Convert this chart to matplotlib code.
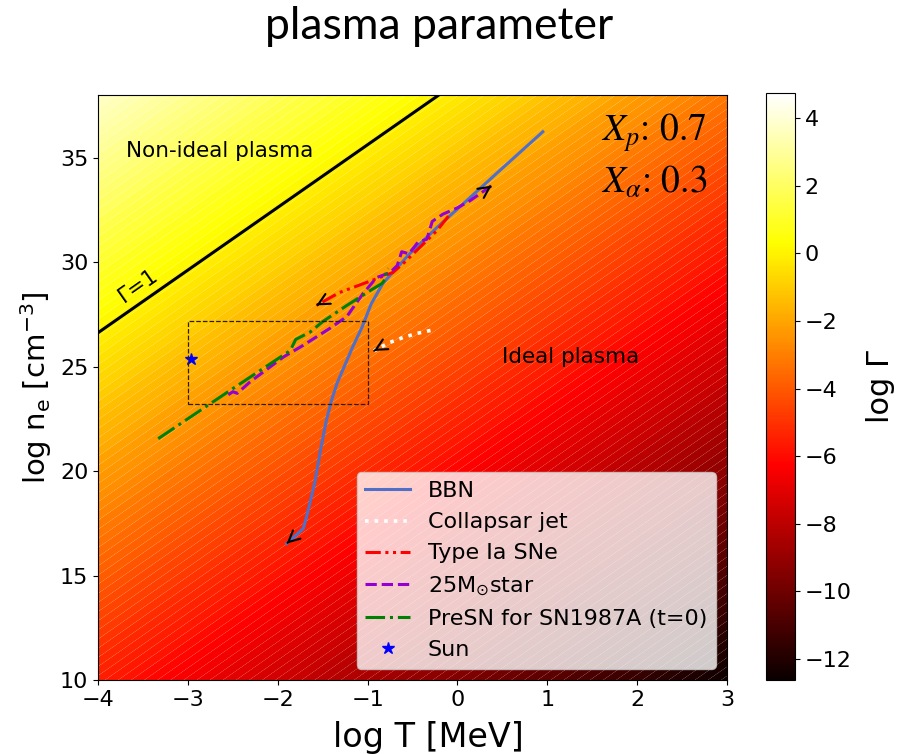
import numpy as np
import matplotlib
matplotlib.use('Agg')
import matplotlib.pyplot as plt
from matplotlib.colors import Normalize
from matplotlib.cm import ScalarMappable

# tracks in (log T [MeV], log n_e [cm^-3])
bbn_logT = [0.95, 0.47, 0.14, -0.23, -0.53, -0.83, -0.96, -1.06, -1.17, -1.26, -1.34, -1.40,
            -1.46, -1.52, -1.585, -1.64, -1.68, -1.715, -1.90]
bbn_logn = [36.24, 34.38, 33.09, 31.65, 30.41, 28.98, 28.0, 26.9, 25.9, 25.0, 24.2, 23.4,
            22.4, 21.1, 19.5, 18.5, 17.8, 17.25, 16.53]

jet_logT = [-0.30, -0.45, -0.60, -0.75, -0.86, -0.93]
jet_logn = [26.73, 26.59, 26.40, 26.16, 25.92, 25.75]

snia_logT = [-0.10, -0.23, -0.42, -0.60, -0.72, -1.01, -1.31, -1.57]
snia_logn = [32.2, 31.5, 30.7, 29.95, 29.5, 29.03, 28.55, 27.93]

star25_logT = [-2.55, -2.50, -2.45, -2.31, -1.94, -1.72, -1.42, -1.23, -1.05, -0.90, -0.75, -0.67,
               -0.62, -0.54, -0.44, -0.34, -0.28, -0.16, 0.0, 0.14, 0.38]
star25_logn = [23.65, 23.80, 23.72, 24.26, 25.45, 26.01, 26.83, 27.4, 28.5, 29.26, 29.5, 29.84,
               30.5, 30.4, 30.95, 31.1, 31.95, 32.3, 32.6, 32.94, 33.66]

presn_logT = [-3.33, -2.53, -1.86, -1.80, -1.64, -1.50, -1.23, -0.97, -0.84, -0.79, -0.80, -0.77]
presn_logn = [21.55, 23.86, 25.77, 26.30, 26.65, 27.15, 27.93, 28.64, 28.98, 29.26, 29.55, 29.70]

sun_logT = [-2.97]
sun_logn = [25.37]

# zoom box drawn on the map
box_logT = [-3.0, -1.0]
box_logn = [23.2, 27.2]

# log Gamma = log n_e / 3 - log T + C
GAMMA_CONST = -12.873
CB_MIN, CB_MAX = -12.62, 4.74

fig = plt.figure(figsize=(8.97, 7.54), dpi=100)
ax = fig.add_axes([98/897, 74/754, 629/897, 585/754])
cax = fig.add_axes([766/897, 74/754, 29/897, 587/754])

T, N = np.meshgrid(np.linspace(-4, 3, 400), np.linspace(10, 38, 400))
logG = N / 3 - T + GAMMA_CONST
ax.contourf(T, N, logG, levels=np.linspace(CB_MIN, CB_MAX, 120), cmap='hot',
            vmin=CB_MIN, vmax=CB_MAX, antialiased=True)
ax.contour(T, N, logG, levels=[0], colors='k', linewidths=2.2)

ax.plot(bbn_logT, bbn_logn, color='#4f6fc8', lw=2.2, label='BBN')
ax.plot(jet_logT, jet_logn, color='white', lw=2.6, ls=':', label='Collapsar jet')
ax.plot(snia_logT, snia_logn, color='red', lw=2.2, ls=(0, (5, 1.5, 1, 1.5, 1, 1.5)), label='Type Ia SNe')
ax.plot(star25_logT, star25_logn, color='darkviolet', lw=2.2, ls='--', label=r'25M$_{\odot}$star')
ax.plot(presn_logT, presn_logn, color='green', lw=2.2, ls='-.', label='PreSN for SN1987A (t=0)')
ax.plot(sun_logT, sun_logn, ls='none', marker='*', ms=9, color='blue', label='Sun')


def head(xs, ys):
    # open arrow head at the end of a track, pointing along its last segment
    x0, y0, x1, y1 = xs[-2], ys[-2], xs[-1], ys[-1]
    start = (x1 - 0.05 * (x1 - x0), y1 - 0.05 * (y1 - y0))
    ax.annotate('', xy=(x1, y1), xytext=start,
                arrowprops=dict(arrowstyle='->', color='k', lw=1.5, mutation_scale=20,
                                shrinkA=0, shrinkB=0))


head(bbn_logT, bbn_logn)
head(jet_logT, jet_logn)
head(snia_logT, snia_logn)
head(star25_logT, star25_logn)

bx = [box_logT[0], box_logT[1], box_logT[1], box_logT[0], box_logT[0]]
by = [box_logn[0], box_logn[0], box_logn[1], box_logn[1], box_logn[0]]
ax.plot(bx, by, color='#2b2010', lw=0.9, ls='--')

ax.text(-3.69, 35.3, 'Non-ideal plasma', fontsize=15.5, va='center')
ax.text(0.5, 25.44, 'Ideal plasma', fontsize=15.5, va='center')
ax.text(-3.55, 28.88, 'Γ=1', fontsize=15.5, rotation=35, ha='center', va='center')
ax.text(2.78, 35.81, r'$X_p$: 0.7', fontsize=27, ha='right', va='baseline',
        family='STIXGeneral', math_fontfamily='stix')
ax.text(2.78, 33.33, r'$X_\alpha$: 0.3', fontsize=27, ha='right', va='baseline',
        family='STIXGeneral', math_fontfamily='stix')

ax.set_xlim(-4, 3)
ax.set_ylim(10, 38)
ax.set_xticks(np.arange(-4, 4))
ax.set_yticks(np.arange(10, 36, 5))
ax.tick_params(labelsize=16)
ax.set_xlabel('log T [MeV]', fontsize=24)
ax.xaxis.set_label_coords(0.526, -0.07)
ax.set_ylabel(r'log n$_\mathregular{e}$ [cm$^{-3}$]', fontsize=21)
ax.legend(loc='lower right', fontsize=16)

cb = fig.colorbar(ScalarMappable(norm=Normalize(CB_MIN, CB_MAX), cmap='hot'), cax=cax,
                  ticks=np.arange(-12, 5, 2))
cb.ax.tick_params(labelsize=16)
cb.set_label('log Γ', fontsize=22, labelpad=10)

fig.text(0.49, 0.965, 'plasma parameter', ha='center', va='center', fontsize=32, family='Lato')

fig.savefig('out.png', dpi=100)
